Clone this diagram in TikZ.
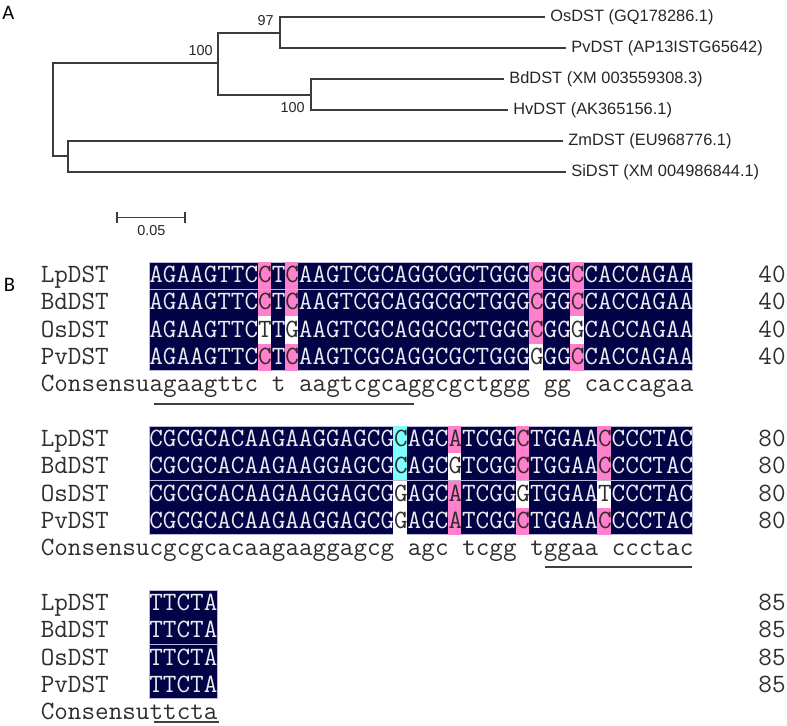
\documentclass[tikz,border=0pt]{standalone}
\usepackage{fontspec}
\setmainfont{Liberation Sans}
\newfontfamily\panelfont{Carlito}
\usepackage{tikz}

\definecolor{treegray}{RGB}{60,60,60}
\definecolor{navycell}{RGB}{2,2,70}
\definecolor{pinkcell}{RGB}{255,128,204}
\definecolor{cyancell}{RGB}{128,255,255}
\definecolor{sepline}{RGB}{185,185,215}
\definecolor{seqlight}{RGB}{235,235,240}
\definecolor{seqdark}{RGB}{50,45,45}

\newcommand{\dkc}[1]{\textcolor{seqdark}{#1}}
\newcommand{\cellbg}[4]{\fill[#1] ({149+(#3-1)*13.58},{#2+(#4-1)*27.2}) rectangle ++(13.58,27.2);}

\tikzset{
  branch/.style={draw=treegray, line width=0.6pt},
  leaf/.style={anchor=west, inner sep=2.5pt, font=\fontsize{8.2}{9}\selectfont, text=black!85},
  boot/.style={anchor=east, inner sep=0pt, font=\fontsize{7.2}{8}\selectfont, text=black!85},
  seq/.style={anchor=base west, inner sep=0pt, font=\ttfamily\fontsize{13.2}{15}\selectfont, text=seqlight},
  seqname/.style={anchor=base west, inner sep=0pt, font=\ttfamily\fontsize{13.2}{15}\selectfont, text=seqdark},
  panel/.style={anchor=base west, inner sep=0pt, font=\panelfont\fontsize{10.3}{12}\selectfont},
  blockbg/.style={fill=navycell, draw=sepline, line width=0.4pt},
  uline/.style={draw=black!75, line width=0.75pt},
}

\begin{document}
\begin{tikzpicture}[x=0.5pt, y=-0.5pt]
\useasboundingbox (0,0) rectangle (787,725);

% A - tree
\node[panel] (pa) at (2,19) {A};
\node[leaf] (os) at (545,17) {OsDST (GQ178286.1)};
\node[leaf] (pv) at (566,48) {PvDST (AP13ISTG65642)};
\node[leaf] (bd) at (504,79) {BdDST (XM 003559308.3)};
\node[leaf] (hv) at (508,110) {HvDST (AK365156.1)};
\node[leaf] (zm) at (563,141) {ZmDST (EU968776.1)};
\node[leaf] (si) at (566,172) {SiDST (XM 004986844.1)};
\coordinate (n97) at (280,33);
\coordinate (n1) at (218,63);
\coordinate (n3) at (311,95);
\coordinate (n4) at (68,156);
\coordinate (root) at (53,110);
\draw[branch] (os.west) -| (n97) |- (pv.west);
\draw[branch] (bd.west) -| (n3) |- (hv.west);
\draw[branch] (n97) -| (n1) |- (n3);
\draw[branch] (zm.west) -| (n4) |- (si.west);
\draw[branch] (n1) -| (root) |- (n4);
\node[boot] (b97) at (274,21) {97};
\node[boot] (b100a) at (213,51) {100};
\node[boot] (b100b) at (305,108) {100};
% scale bar
\draw[branch] (117,212) -- (117,223) (117,217.5) -- (185,217.5) (185,212) -- (185,223);
\node[boot, anchor=center] (scale) at (151.3,231) {0.05};

% B - alignment
\node[panel] (pb) at (3.5,291.7) {B};

% block 1
\fill[blockbg] (149,262) rectangle ++(543.2,108.8);
\foreach \c/\r in {9/1,9/2,9/4,11/1,11/2,11/4,29/1,29/2,29/3,32/1,32/2,32/4}
  \cellbg{pinkcell}{262}{\c}{\r}
\foreach \c/\r in {9/3,11/3,29/4,32/3}
  \cellbg{white}{262}{\c}{\r}
\draw[sepline, line width=0.5pt] (149,289.2) -- (692.2,289.2);
\foreach \nm [count=\r] in {Lp,Bd,Os,Pv} {
  \node[seqname] (name1-\r) at (40.4,{262+(\r-1)*27.2+20.7}) {\nm DST};
  \node[seqname] (num1-\r) at (758,{262+(\r-1)*27.2+20.7}) {40};
}
\node[seq] (lp1) at (149,282.7) {AGAAGTTC\dkc{C}T\dkc{C}AAGTCGCAGGCGCTGGG\dkc{C}GG\dkc{C}CACCAGAA};
\node[seq] (bd1) at (149,309.9) {AGAAGTTC\dkc{C}T\dkc{C}AAGTCGCAGGCGCTGGG\dkc{C}GG\dkc{C}CACCAGAA};
\node[seq] (os1) at (149,337.1) {AGAAGTTC\dkc{T}T\dkc{G}AAGTCGCAGGCGCTGGG\dkc{C}GG\dkc{G}CACCAGAA};
\node[seq] (pv1) at (149,364.3) {AGAAGTTC\dkc{C}T\dkc{C}AAGTCGCAGGCGCTGGG\dkc{G}GG\dkc{C}CACCAGAA};
\node[seqname] (cons1) at (40.4,391.5) {Consensuagaagttc t aagtcgcaggcgctggg gg caccagaa};
\draw[uline] (153.7,404) -- (414,404);

% block 2
\fill[blockbg] (149,426) rectangle ++(543.2,108.8);
\foreach \c/\r in {19/1,19/2}
  \cellbg{cyancell}{426}{\c}{\r}
\foreach \c/\r in {23/1,23/3,23/4,28/1,28/2,28/4,34/1,34/2,34/4}
  \cellbg{pinkcell}{426}{\c}{\r}
\foreach \c/\r in {19/3,19/4,23/2,28/3,34/3}
  \cellbg{white}{426}{\c}{\r}
\draw[sepline, line width=0.5pt] (149,480.4) -- (692.2,480.4);
\foreach \nm [count=\r] in {Lp,Bd,Os,Pv} {
  \node[seqname] (name2-\r) at (40.4,{426+(\r-1)*27.2+20.7}) {\nm DST};
  \node[seqname] (num2-\r) at (758,{426+(\r-1)*27.2+20.7}) {80};
}
\node[seq] (lp2) at (149,446.7) {CGCGCACAAGAAGGAGCG\dkc{C}AGC\dkc{A}TCGG\dkc{C}TGGAA\dkc{C}CCCTAC};
\node[seq] (bd2) at (149,473.9) {CGCGCACAAGAAGGAGCG\dkc{C}AGC\dkc{G}TCGG\dkc{C}TGGAA\dkc{C}CCCTAC};
\node[seq] (os2) at (149,501.1) {CGCGCACAAGAAGGAGCG\dkc{G}AGC\dkc{A}TCGG\dkc{G}TGGAA\dkc{T}CCCTAC};
\node[seq] (pv2) at (149,528.3) {CGCGCACAAGAAGGAGCG\dkc{G}AGC\dkc{A}TCGG\dkc{C}TGGAA\dkc{C}CCCTAC};
\node[seqname] (cons2) at (40.4,555.5) {Consensucgcgcacaagaaggagcg agc tcgg tggaa ccctac};
\draw[uline] (545,567) -- (692,567);

% block 3
\fill[blockbg] (149,590) rectangle ++(67.9,108.8);
\draw[sepline, line width=0.5pt] (149,644.4) -- (216.9,644.4);
\foreach \nm [count=\r] in {Lp,Bd,Os,Pv} {
  \node[seqname] (name3-\r) at (40.4,{590+(\r-1)*27.2+20.7}) {\nm DST};
  \node[seqname] (num3-\r) at (758,{590+(\r-1)*27.2+20.7}) {85};
  \node[seq] (seq3-\r) at (149,{590+(\r-1)*27.2+20.7}) {TTCTA};
}
\node[seqname] (cons3) at (40.4,719.5) {Consensuttcta};
\draw[uline] (154,722) -- (219,722);
\end{tikzpicture}
\end{document}
